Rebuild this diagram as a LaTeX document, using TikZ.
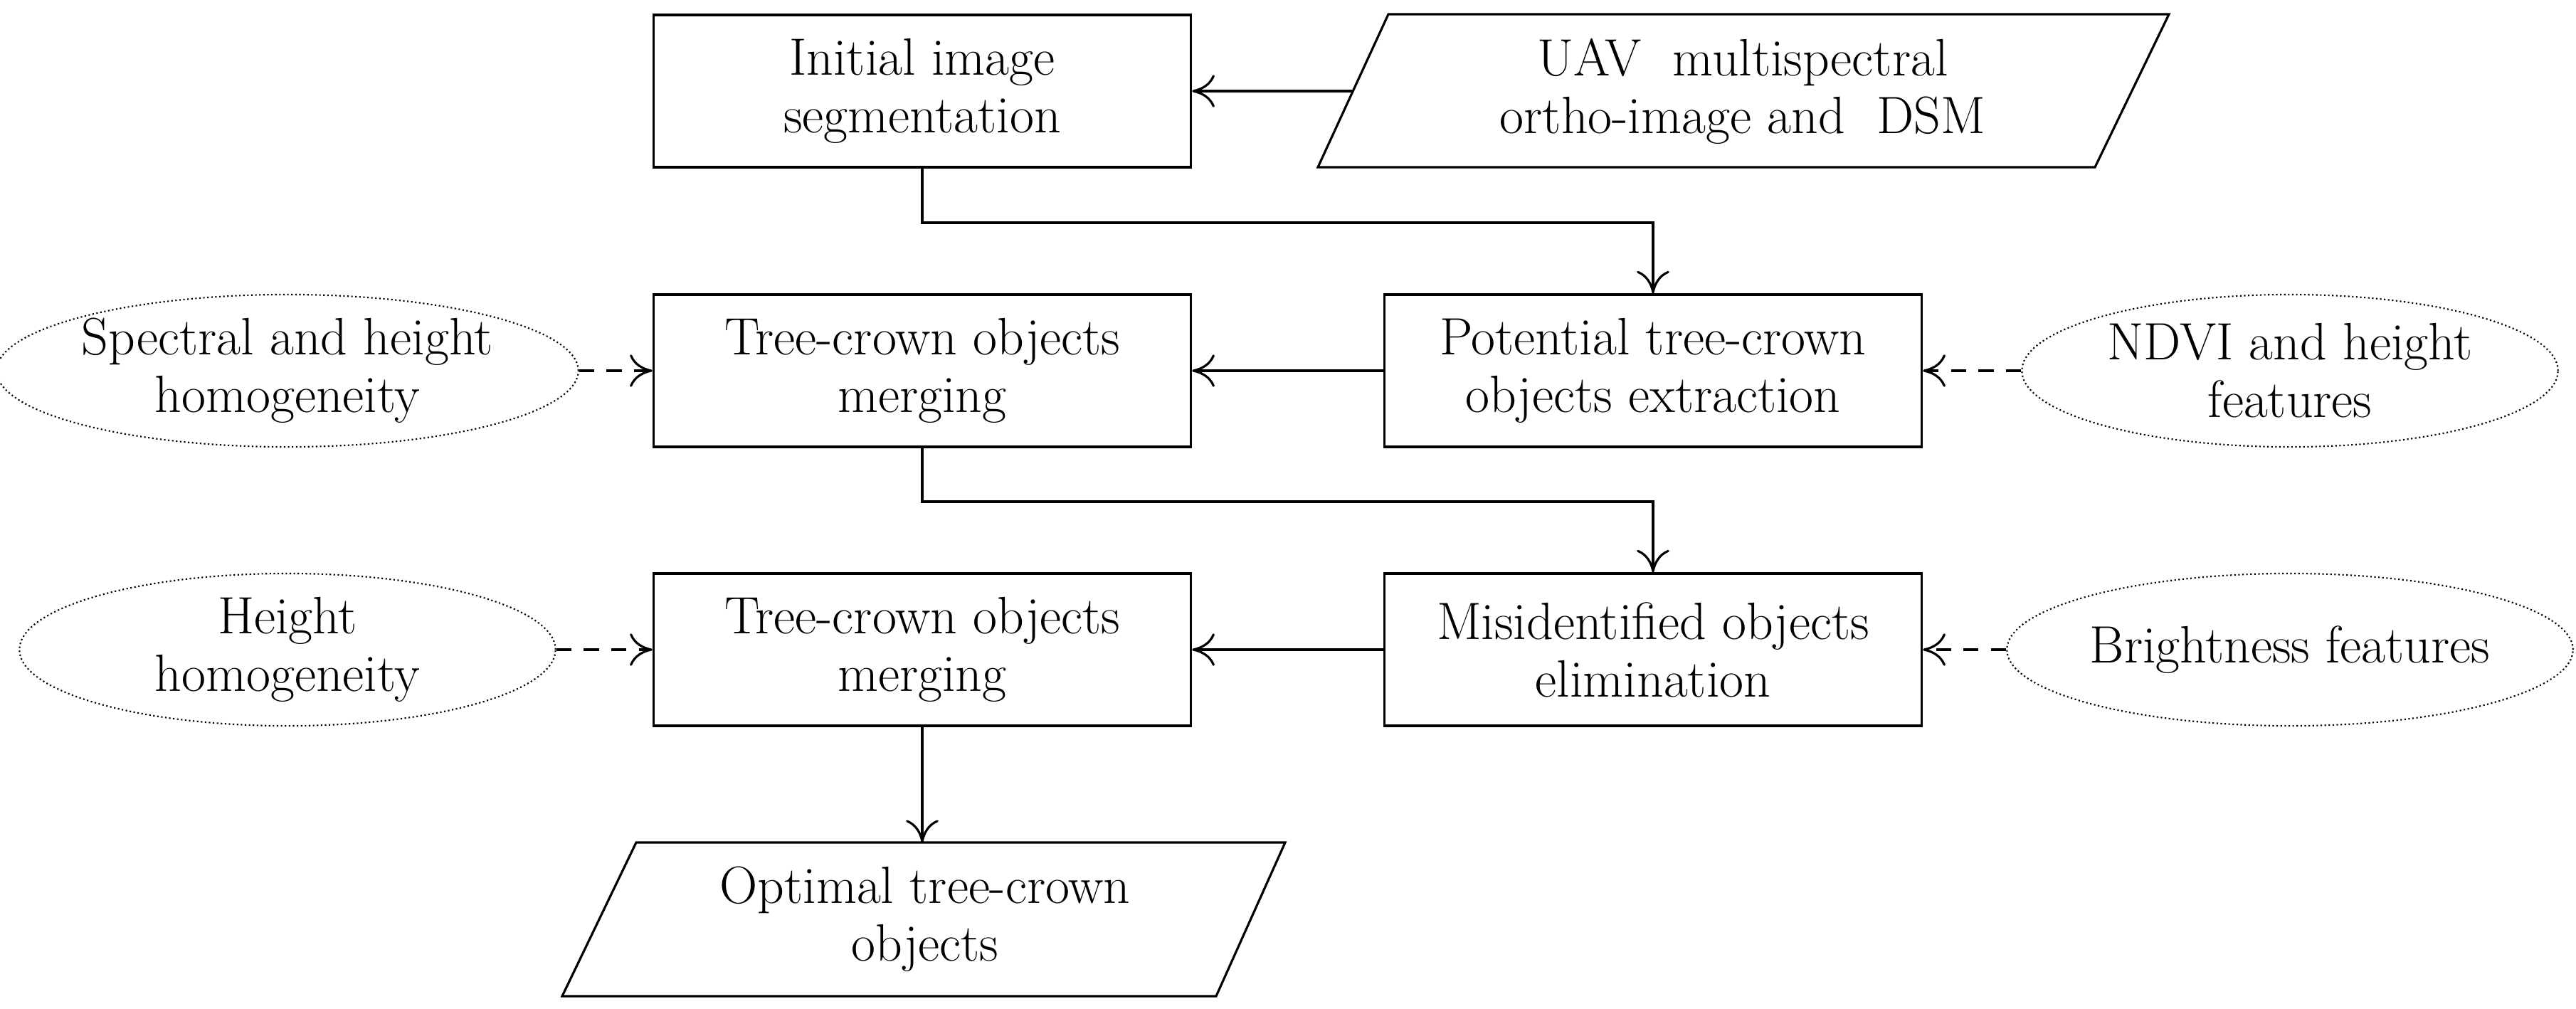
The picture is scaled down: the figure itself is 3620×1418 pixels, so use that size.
\documentclass[tikz,border=0pt]{standalone}
\usetikzlibrary{arrows.meta,shapes.geometric}
\begin{document}
\begin{tikzpicture}[x=0.01cm,y=-0.01cm,
 font=\fontsize{21}{23}\selectfont,
 box/.style={draw,line width=0.9pt,minimum width=7.55cm,minimum height=2.14cm,align=center,inner sep=0pt},
 txt/.style={align=center,inner sep=0pt},
 ell/.style={draw,densely dotted,line width=0.6pt,ellipse,minimum width=7.53cm,minimum height=2.14cm,align=center,inner sep=0pt},
 arr/.style={line width=0.9pt,-{To[length=9pt,width=13pt]}},
 darr/.style={arr,dash pattern=on 6pt off 5pt}]
\useasboundingbox (0,0) rectangle (3620,1418);
\node[box] (init) at (1296,128) {Initial image\\segmentation};
\draw[line width=0.9pt] (1951,20) -- (3048,20) -- (2944,235) -- (1852,235) -- cycle;
\coordinate (uavl) at (1900,128);
\node[txt] (uav) at (2449,128) {UAV\ \ multispectral\\ortho-image and\ \ DSM};
\node[box] (tc1) at (1296,521) {Tree-crown objects\\merging};
\node[box] (pot) at (2323,521) {Potential tree-crown\\objects extraction};
\node[box] (tc2) at (1296,913) {Tree-crown objects\\merging};
\node[box] (mis) at (2323,913) {Misidentified objects\\elimination};
\node[ell] (sh) at (404,521) {Spectral and height\\homogeneity};
\node[ell] (ndvi) at (3218,521) {NDVI and height\\features};
\node[ell] (hh) at (404,913) {Height\\homogeneity};
\node[ell] (bri) at (3218,913) {Brightness features};
\draw[line width=0.9pt] (894,1184) -- (1806,1184) -- (1709,1400) -- (790,1400) -- cycle;
\coordinate (optt) at (1296,1184);
\node[txt] (opt) at (1300,1292) {Optimal tree-crown\\objects};
\draw[arr] (uavl) -- (init.east);
\draw[arr] (init.south) |- (2323,313) -- (pot.north);
\draw[arr] (pot) -- (tc1);
\draw[arr] (tc1.south) |- (2323,705) -- (mis.north);
\draw[arr] (mis) -- (tc2);
\draw[arr] (tc2.south) -- (optt);
\draw[darr] (sh) -- (tc1);
\draw[darr] (hh) -- (tc2);
\draw[darr] (ndvi) -- (pot);
\draw[darr] (bri) -- (mis);
\end{tikzpicture}
\end{document}
